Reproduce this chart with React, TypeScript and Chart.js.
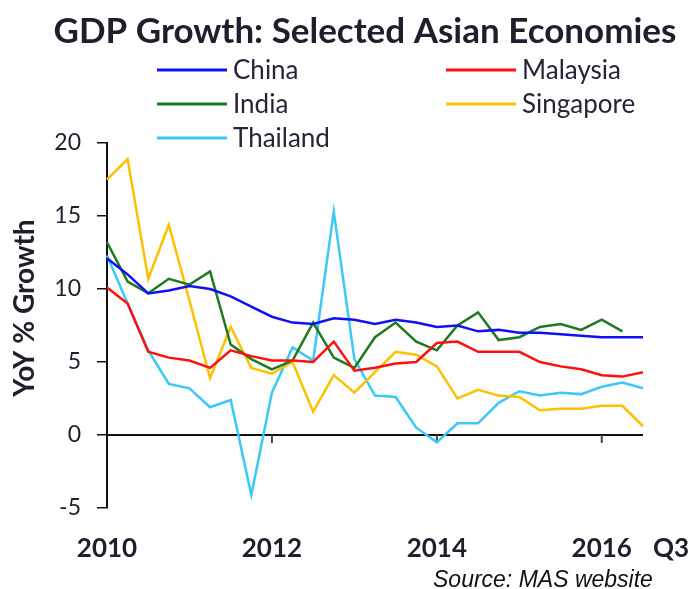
import React, { useEffect, useRef } from 'react';
import { Chart, registerables } from 'chart.js';

Chart.register(...registerables);

const quarters = [
  '2010Q1', '2010Q2', '2010Q3', '2010Q4',
  '2011Q1', '2011Q2', '2011Q3', '2011Q4',
  '2012Q1', '2012Q2', '2012Q3', '2012Q4',
  '2013Q1', '2013Q2', '2013Q3', '2013Q4',
  '2014Q1', '2014Q2', '2014Q3', '2014Q4',
  '2015Q1', '2015Q2', '2015Q3', '2015Q4',
  '2016Q1', '2016Q2', '2016Q3',
];
const yearTickLabels = ['2010', '2012', '2014', '2016'];
const endLabel = 'Q3';
const yTicks = [-5, 0, 5, 10, 15, 20];

const china = [12.1, 11.0, 9.7, 9.9, 10.2, 10.0, 9.5, 8.8, 8.1, 7.7, 7.6, 8.0, 7.9, 7.6, 7.9, 7.7, 7.4, 7.5, 7.1, 7.2, 7.0, 7.0, 6.9, 6.8, 6.7, 6.7, 6.7];
const malaysia = [10.1, 9.0, 5.7, 5.3, 5.1, 4.6, 5.8, 5.4, 5.1, 5.1, 5.0, 6.4, 4.4, 4.6, 4.9, 5.0, 6.3, 6.4, 5.7, 5.7, 5.7, 5.0, 4.7, 4.5, 4.1, 4.0, 4.3];
const india = [13.2, 10.5, 9.7, 10.7, 10.3, 11.2, 6.2, 5.2, 4.5, 5.1, 7.7, 5.3, 4.6, 6.7, 7.7, 6.4, 5.8, 7.5, 8.4, 6.5, 6.7, 7.4, 7.6, 7.2, 7.9, 7.1, null];
const singapore = [17.5, 18.9, 10.7, 14.4, 9.2, 3.9, 7.4, 4.6, 4.2, 5.0, 1.6, 4.1, 2.9, 4.3, 5.7, 5.5, 4.7, 2.5, 3.1, 2.7, 2.6, 1.7, 1.8, 1.8, 2.0, 2.0, 0.6];
const thailand = [12.3, 9.0, 5.8, 3.5, 3.2, 1.9, 2.4, -4.1, 2.9, 6.0, 5.1, 15.3, 5.2, 2.7, 2.6, 0.5, -0.5, 0.8, 0.8, 2.2, 3.0, 2.7, 2.9, 2.8, 3.3, 3.6, 3.2];

const seriesNames = ['China', 'Malaysia', 'India', 'Singapore', 'Thailand'];
const seriesColors = ['#1010f5', '#ff1010', '#1f7a1f', '#ffc000', '#3cc8f8'];
const seriesValues = [china, malaysia, india, singapore, thailand];

const titleText = 'GDP Growth: Selected Asian Economies';
const yTitleText = 'YoY % Growth';
const sourceText = 'Source: MAS website';
const TEXT = '#1e1e2c';

const overlayPlugin = {
  id: 'overlay',
  beforeDatasetsDraw(chart: any) {
    const { ctx } = chart;
    const xs = chart.scales.x;
    const ys = chart.scales.y;
    const y0 = ys.getPixelForValue(0);
    ctx.save();
    ctx.strokeStyle = '#111';
    ctx.lineWidth = 2;
    ctx.beginPath();
    ctx.moveTo(xs.getPixelForValue(0), y0);
    ctx.lineTo(xs.getPixelForValue(quarters.length - 1), y0);
    ctx.stroke();
    ctx.strokeStyle = '#444';
    ctx.lineWidth = 2;
    quarters.forEach((q, i) => {
      if (i > 0 && q.endsWith('Q1') && yearTickLabels.includes(q.slice(0, 4))) {
        const px = xs.getPixelForValue(i);
        ctx.beginPath();
        ctx.moveTo(px, y0);
        ctx.lineTo(px, y0 + 8);
        ctx.stroke();
      }
    });
    ctx.restore();
  },
  afterDraw(chart: any) {
    const { ctx } = chart;
    const xs = chart.scales.x;
    ctx.save();
    // title
    ctx.fillStyle = TEXT;
    ctx.font = 'bold 35px Lato';
    ctx.textAlign = 'center';
    ctx.textBaseline = 'middle';
    ctx.fillText(titleText, 365, 32);
    // legend (two columns)
    const cols = [157, 446];
    const rows = [70, 104, 138];
    seriesNames.forEach((name, k) => {
      const cx = cols[k % 2];
      const cy = rows[Math.floor(k / 2)];
      ctx.strokeStyle = seriesColors[k];
      ctx.lineWidth = 3;
      ctx.beginPath();
      ctx.moveTo(cx, cy);
      ctx.lineTo(cx + 70, cy);
      ctx.stroke();
      ctx.fillStyle = '#2a2238';
      ctx.font = '26px Lato';
      ctx.textAlign = 'left';
      ctx.textBaseline = 'middle';
      ctx.fillText(name, cx + 76, cy + 1);
    });
    // y title
    ctx.save();
    ctx.translate(25, 308);
    ctx.rotate(-Math.PI / 2);
    ctx.fillStyle = TEXT;
    ctx.font = 'bold 28px Lato';
    ctx.textAlign = 'center';
    ctx.textBaseline = 'middle';
    ctx.fillText(yTitleText, 0, 0);
    ctx.restore();
    // Q3 end label
    ctx.fillStyle = TEXT;
    ctx.font = 'bold 26px Lato';
    ctx.textAlign = 'center';
    ctx.textBaseline = 'middle';
    ctx.fillText(endLabel, xs.getPixelForValue(quarters.length - 1) + 28, 549);
    // source
    ctx.fillStyle = '#111';
    ctx.font = 'italic 23px "Liberation Sans"';
    ctx.textAlign = 'left';
    ctx.textBaseline = 'alphabetic';
    ctx.fillText(sourceText, 433, 587);
    ctx.restore();
  },
};

export default function App() {
  const ref = useRef<HTMLCanvasElement | null>(null);
  useEffect(() => {
    if (!ref.current) return;
    Chart.defaults.font.family = 'Lato';
    const chart = new Chart(ref.current, {
      type: 'line',
      data: {
        labels: quarters,
        datasets: seriesNames.map((name, k) => ({
          label: name,
          data: seriesValues[k],
          borderColor: seriesColors[k],
          backgroundColor: seriesColors[k],
          borderWidth: 2.5,
          pointRadius: 0,
          tension: 0,
          fill: false,
        })),
      },
      options: {
        animation: false,
        responsive: false,
        events: [],
        layout: { padding: { top: 143, right: 50, left: 0, bottom: 0 } },
        plugins: {
          legend: { display: false },
          title: { display: false },
          tooltip: { enabled: false },
        },
        scales: {
          x: {
            type: 'category',
            offset: false,
            grid: { display: false, drawTicks: false },
            border: { display: false },
            ticks: {
              autoSkip: false,
              maxRotation: 0,
              minRotation: 0,
              padding: 25,
              color: TEXT,
              font: { size: 26, weight: 'bold', family: 'Lato' },
              callback: (_v: any, i: number) => {
                const q = quarters[i];
                const yr = q.slice(0, 4);
                return q.endsWith('Q1') && yearTickLabels.includes(yr) ? yr : '';
              },
            },
            afterFit: (s: any) => {
              s.height = 81;
            },
          },
          y: {
            min: yTicks[0],
            max: yTicks[yTicks.length - 1],
            afterBuildTicks: (s: any) => {
              s.ticks = yTicks.map((v) => ({ value: v }));
            },
            grid: {
              display: true,
              drawOnChartArea: false,
              drawTicks: true,
              tickLength: 10,
              color: '#111',
              lineWidth: 1.5,
            },
            border: { display: true, color: '#111', width: 2 },
            ticks: {
              padding: 16,
              color: TEXT,
              font: { size: 23, family: 'Lato' },
            },
            afterFit: (s: any) => {
              s.width = 107;
            },
          },
        },
      },
      plugins: [overlayPlugin],
    });
    return () => chart.destroy();
  }, []);
  return (
    <div style={{ position: 'absolute', left: 0, top: 0, width: 693, height: 589, background: '#fff' }}>
      <canvas ref={ref} width={693} height={589} />
    </div>
  );
}
